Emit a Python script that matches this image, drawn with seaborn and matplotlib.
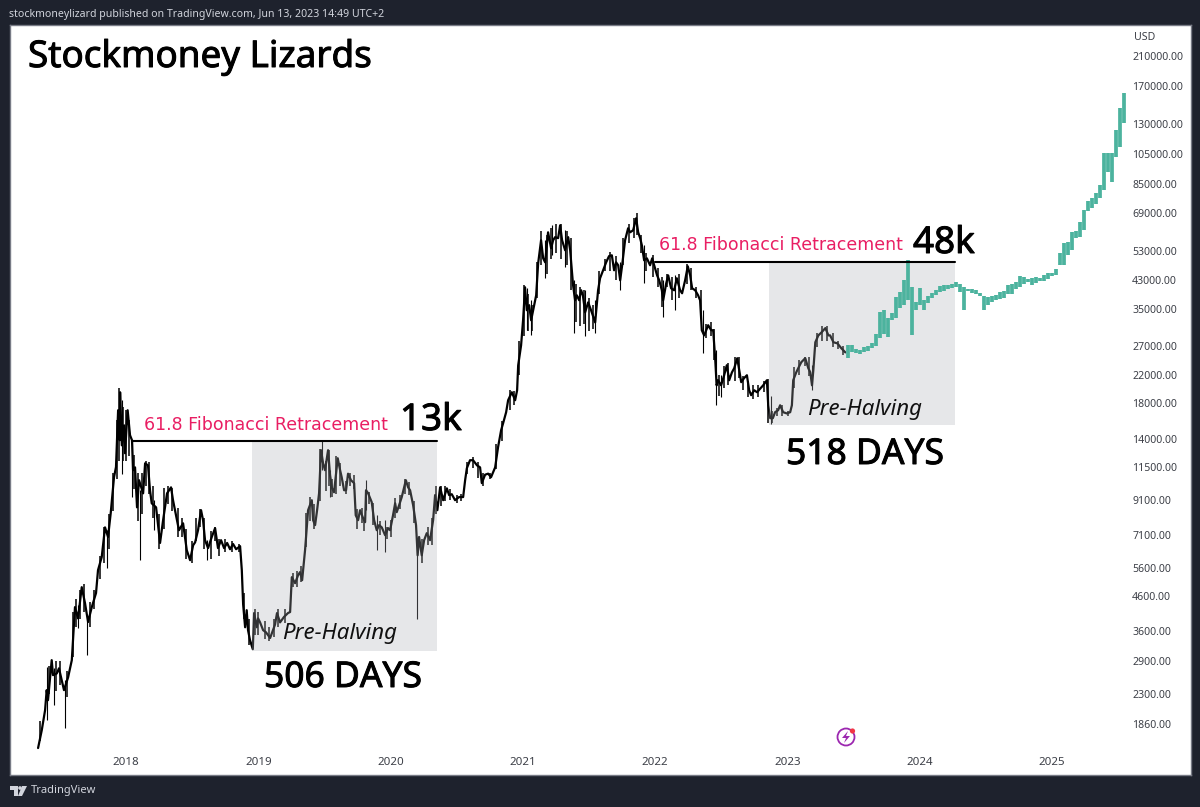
import numpy as np
import pandas as pd
import seaborn as sns
import matplotlib
matplotlib.use("Agg")
import matplotlib.pyplot as plt
from matplotlib import patches
from matplotlib import patheffects

# black part
years = [
    2017.335, 2017.363, 2017.388, 2017.400, 2017.410, 2017.438, 2017.448, 2017.476, 2017.493, 2017.514,
    2017.531, 2017.562, 2017.590, 2017.614, 2017.637, 2017.665, 2017.690, 2017.713, 2017.741, 2017.773,
    2017.788, 2017.816, 2017.841, 2017.864, 2017.884, 2017.909, 2017.924, 2017.940, 2017.952, 2017.955,
    2017.968, 2017.985, 2017.992, 2018.012, 2018.030, 2018.045, 2018.053, 2018.068, 2018.083, 2018.098,
    2018.129, 2018.144, 2018.166, 2018.181, 2018.194, 2018.227, 2018.242, 2018.257, 2018.280, 2018.310,
    2018.340, 2018.355, 2018.370, 2018.400, 2018.431, 2018.459, 2018.484, 2018.507, 2018.522, 2018.544,
    2018.567, 2018.582, 2018.597, 2018.620, 2018.648, 2018.673, 2018.695, 2018.718, 2018.741, 2018.764,
    2018.786, 2018.809, 2018.832, 2018.862, 2018.875, 2018.885, 2018.900, 2018.912, 2018.922, 2018.937,
    2018.958, 2018.968, 2018.988, 2018.998, 2019.013, 2019.036, 2019.058, 2019.089, 2019.111, 2019.126,
    2019.141, 2019.164, 2019.194, 2019.224, 2019.240, 2019.253, 2019.278, 2019.300, 2019.315, 2019.331,
    2019.353, 2019.376, 2019.404, 2019.414, 2019.429, 2019.444, 2019.459, 2019.474, 2019.489, 2019.504,
    2019.527, 2019.542, 2019.557, 2019.572, 2019.600, 2019.618, 2019.630, 2019.648, 2019.663, 2019.678,
    2019.700, 2019.724, 2019.736, 2019.754, 2019.769, 2019.792, 2019.807, 2019.814, 2019.830, 2019.857,
    2019.875, 2019.895, 2019.913, 2019.933, 2019.958, 2019.981, 2019.996, 2020.018, 2020.034, 2020.046,
    2020.064, 2020.084, 2020.102, 2020.115, 2020.132, 2020.147, 2020.170, 2020.192, 2020.204, 2020.215,
    2020.235, 2020.253, 2020.273, 2020.298, 2020.321, 2020.336, 2020.353, 2020.374, 2020.397, 2020.425,
    2020.442, 2020.462, 2020.487, 2020.517, 2020.548, 2020.563, 2020.576, 2020.600, 2020.623, 2020.653,
    2020.676, 2020.689, 2020.714, 2020.737, 2020.759, 2020.790, 2020.812, 2020.835, 2020.850, 2020.873,
    2020.888, 2020.916, 2020.941, 2020.956, 2020.964, 2020.986, 2021.001, 2021.016, 2021.029, 2021.047,
    2021.062, 2021.077, 2021.100, 2021.115, 2021.137, 2021.153, 2021.168, 2021.190, 2021.213, 2021.228,
    2021.243, 2021.266, 2021.281, 2021.296, 2021.319, 2021.342, 2021.357, 2021.379, 2021.394, 2021.407,
    2021.425, 2021.440, 2021.453, 2021.470, 2021.493, 2021.515, 2021.546, 2021.568, 2021.583, 2021.606,
    2021.629, 2021.651, 2021.672, 2021.689, 2021.704, 2021.720, 2021.735, 2021.750, 2021.772, 2021.795,
    2021.810, 2021.833, 2021.856, 2021.871, 2021.886, 2021.899, 2021.916, 2021.937, 2021.961, 2021.977,
    2021.999, 2022.014, 2022.030, 2022.050, 2022.060, 2022.083, 2022.098, 2022.120, 2022.143, 2022.163,
    2022.188, 2022.203, 2022.226, 2022.246, 2022.264, 2022.279, 2022.302, 2022.324, 2022.339, 2022.352,
    2022.370, 2022.400, 2022.423, 2022.438, 2022.453, 2022.464, 2022.476, 2022.498, 2022.521, 2022.541,
    2022.559, 2022.580, 2022.597, 2022.620, 2022.635, 2022.650, 2022.672, 2022.693, 2022.710, 2022.725,
    2022.748, 2022.770, 2022.793, 2022.816, 2022.844, 2022.854, 2022.869, 2022.889, 2022.906, 2022.929,
    2022.944, 2022.967, 2022.995, 2023.020, 2023.033, 2023.043, 2023.066, 2023.081, 2023.104, 2023.134,
    2023.157, 2023.172, 2023.185, 2023.195, 2023.210, 2023.233, 2023.256, 2023.286, 2023.309, 2023.322,
    2023.347, 2023.377, 2023.407, 2023.437,
]
prices = [
    1570, 1782, 2053, 2365, 2203, 2924, 2630, 2660, 2760, 2538,
    2365, 2590, 2924, 4255, 3930, 4900, 4370, 3830, 4255, 4700,
    5526, 6060, 7480, 6990, 8270, 10670, 11470, 17137, 13860, 19460,
    13370, 15400, 12640, 17137, 14360, 13860, 11210, 11440, 8620, 10445,
    9520, 11770, 11600, 9731, 8870, 8620, 7600, 6700, 7871, 9520,
    9930, 9067, 8448, 7333, 7700, 6366, 5931, 6590, 6730, 7333,
    8448, 7871, 6833, 6460, 6990, 7440, 6460, 6833, 6460, 6700,
    6410, 6650, 6410, 6550, 5526, 4340, 3690, 4164, 3615, 3368,
    3160, 4080, 3690, 3930, 3820, 3615, 3560, 3420, 3615, 3760,
    4080, 3820, 3970, 4080, 4110, 5260, 5040, 5330, 5450, 5149,
    6366, 8448, 9067, 7871, 7600, 8448, 9520, 12914, 11780, 11210,
    12914, 10820, 9860, 9590, 12200, 11210, 10670, 9731, 9731, 10940,
    10445, 10230, 8150, 7871, 8448, 7980, 7760, 9731, 9520, 8940,
    7871, 7333, 7600, 7480, 7080, 7440, 7333, 8150, 8870, 8330,
    8750, 9270, 9930, 10445, 9930, 9731, 8750, 7600, 6140, 6990,
    6140, 6833, 7180, 6833, 7871, 9400, 8448, 9930, 9067, 9860,
    9400, 9460, 9067, 9270, 9270, 10445, 11370, 12032, 12032, 11600,
    11440, 10230, 10860, 10940, 10670, 11440, 13200, 14876, 15620, 16900,
    18393, 19460, 18393, 19741, 23540, 27130, 32390, 40900, 34764, 36040,
    32390, 34764, 38650, 48450, 57038, 50200, 48800, 60340, 53900, 57038,
    58300, 57900, 63400, 57038, 53143, 58300, 53143, 41500, 37312, 38650,
    37312, 40047, 38650, 34260, 36760, 34764, 31900, 40047, 43600, 46133,
    48800, 51000, 51300, 46133, 48800, 47800, 42982, 47800, 57038, 62100,
    60340, 61219, 66650, 60340, 57900, 55050, 49514, 50200, 47800, 50200,
    46800, 44500, 42982, 40047, 37312, 42050, 44500, 40600, 40047, 43600,
    40047, 39200, 42982, 47450, 44500, 40600, 40047, 38650, 37312, 30178,
    29100, 31270, 30178, 30178, 24760, 20440, 21188, 20440, 21950, 23560,
    21188, 22410, 23070, 24760, 22741, 20900, 21520, 21950, 19741, 19060,
    19741, 19460, 19960, 20440, 21188, 17750, 16200, 16200, 16900, 17137,
    17750, 16900, 16750, 16900, 17750, 21188, 22410, 23070, 24070, 24760,
    23070, 22410, 20440, 22741, 27720, 29100, 29700, 30640, 29100, 29100,
    27720, 27500, 26560, 25800,
]

# long thin wicks sticking out of the black line
wick_years = [
    2017.400, 2017.456, 2017.539, 2017.635, 2017.705, 2017.856, 2017.968, 2018.045, 2018.104, 2018.212,
    2018.610, 2019.480, 2019.542, 2019.814, 2019.895, 2019.958, 2020.200, 2021.029, 2021.062, 2021.168,
    2021.218, 2021.319, 2021.385, 2021.470, 2021.546, 2021.735, 2021.916, 2022.060, 2022.151, 2022.360,
    2022.460, 2022.500, 2022.875, 2023.185,
]
wick_lows = [
    1913, 2130, 1815, 3660, 3030, 5600, 10940, 9270, 5931, 7333,
    5931, 11210, 9270, 8448, 6366, 6270, 3920, 30178, 29100, 43600,
    51300, 47100, 29700, 29000, 29500, 40047, 42050, 33200, 34764, 25600,
    17750, 18800, 15500, 19741,
]
wick_highs = [
    2790, 2760, 2538, 4330, 4000, 7333, 18393, 13860, 9731, 9067,
    6833, 13860, 11210, 10445, 8150, 7871, 6833, 40800, 37312, 57038,
    63400, 61219, 42982, 40047, 37312, 48800, 55050, 42982, 44500, 34764,
    26197, 21950, 19000, 23540,
]

# daily ranges that make the black line look rough
range_years = [
    2017.35, 2017.42, 2017.47, 2017.50, 2017.55, 2017.60, 2017.62, 2017.65, 2017.68, 2017.73,
    2017.76, 2017.80, 2017.83, 2017.87, 2017.90, 2017.93, 2017.945, 2017.975, 2018.00, 2018.02,
    2018.06, 2018.09, 2018.12, 2018.15, 2018.17, 2018.20, 2018.25, 2018.29, 2018.32, 2018.35,
    2018.39, 2018.42, 2018.45, 2018.50, 2018.53, 2018.56, 2018.59, 2018.64, 2018.67, 2018.70,
    2018.75, 2018.80, 2018.85, 2018.89, 2018.93, 2018.975, 2019.00, 2019.05, 2019.08, 2019.12,
    2019.15, 2019.20, 2019.26, 2019.29, 2019.32, 2019.36, 2019.39, 2019.42, 2019.465, 2019.51,
    2019.535, 2019.56, 2019.59, 2019.62, 2019.66, 2019.69, 2019.72, 2019.745, 2019.78, 2019.80,
    2019.84, 2019.87, 2019.92, 2019.97, 2020.00, 2020.03, 2020.07, 2020.11, 2020.14, 2020.18,
    2020.24, 2020.28, 2020.31, 2020.345, 2020.38, 2020.41, 2020.45, 2020.50, 2020.53, 2020.58,
    2020.62, 2020.66, 2020.70, 2020.75, 2020.80, 2020.84, 2020.90, 2020.93, 2020.97, 2021.01,
    2021.04, 2021.07, 2021.11, 2021.14, 2021.18, 2021.21, 2021.25, 2021.29, 2021.33, 2021.36,
    2021.40, 2021.43, 2021.46, 2021.50, 2021.53, 2021.575, 2021.62, 2021.66, 2021.70, 2021.76,
    2021.80, 2021.84, 2021.86, 2021.89, 2021.93, 2021.98, 2022.02, 2022.05, 2022.09, 2022.13,
    2022.18, 2022.24, 2022.27, 2022.31, 2022.345, 2022.38, 2022.42, 2022.445, 2022.48, 2022.52,
    2022.55, 2022.60, 2022.63, 2022.66, 2022.70, 2022.74, 2022.78, 2022.82, 2022.85, 2022.88,
    2022.92, 2022.96, 2023.00, 2023.05, 2023.09, 2023.13, 2023.16, 2023.22, 2023.26, 2023.30,
    2023.34, 2023.38, 2023.42,
]
range_lows = [
    1650, 2300, 2350, 2450, 2250, 3000, 3700, 3900, 4100, 3700,
    4200, 5200, 5800, 6400, 8400, 10500, 12000, 12000, 12000, 12400,
    9800, 7800, 8200, 10000, 9500, 8000, 6400, 7400, 8800, 8400,
    7000, 7000, 6000, 5800, 6800, 7500, 6400, 6000, 6800, 6100,
    6300, 6300, 6300, 3900, 3250, 3500, 3500, 3400, 3350, 3450,
    3700, 3800, 4900, 4900, 5100, 6500, 7800, 7400, 9000, 9700,
    10000, 9300, 9500, 10000, 9500, 10000, 9800, 7400, 7700, 7300,
    8800, 7600, 7100, 6900, 7000, 8000, 8500, 9500, 9400, 7700,
    5800, 6600, 6600, 8200, 8700, 9000, 9100, 8900, 9000, 10900,
    11400, 10600, 10000, 10500, 11300, 13800, 17200, 17800, 22000, 29000,
    30000, 30000, 38000, 48000, 45000, 50000, 52000, 50000, 48000, 40000,
    32000, 31000, 31500, 30000, 30500, 39000, 46000, 46000, 43000, 48000,
    56000, 58000, 59000, 52000, 46000, 44000, 41000, 35500, 41000, 37500,
    38000, 42000, 40000, 38000, 33000, 28500, 29000, 24500, 19000, 20000,
    20500, 21000, 21500, 19800, 18800, 18500, 18800, 19500, 15700, 15700,
    16400, 16500, 16400, 20000, 22000, 23500, 21800, 26800, 28000, 28000,
    26800, 26500, 25300,
]
range_highs = [
    1900, 2800, 2900, 2900, 2700, 4100, 4500, 4800, 5000, 4400,
    4800, 6100, 7500, 8200, 11000, 16000, 20000, 17500, 17200, 16000,
    12500, 11000, 11000, 12000, 11900, 10000, 8200, 9900, 10000, 9900,
    8600, 8000, 7400, 6800, 8000, 8500, 8000, 7300, 7500, 6900,
    6900, 6800, 6650, 4700, 3900, 4200, 4100, 3850, 3700, 3900,
    4200, 4200, 5400, 5500, 5700, 8300, 9300, 8800, 13000, 12000,
    12900, 10500, 12400, 11800, 10400, 11000, 10800, 8500, 8600, 8000,
    9600, 8900, 7800, 7500, 7900, 9200, 9400, 10500, 10300, 9000,
    6900, 7500, 8000, 10000, 10000, 10000, 9800, 9400, 9500, 11900,
    12300, 11900, 11000, 11000, 13500, 15900, 19800, 19600, 28000, 41500,
    39000, 36000, 49000, 61000, 59000, 62000, 64000, 64000, 61000, 58000,
    42000, 41000, 40000, 38000, 36000, 46000, 50000, 52500, 51000, 58000,
    64000, 67000, 69000, 59000, 52000, 51500, 47000, 44000, 45000, 44000,
    44800, 48200, 47000, 41000, 40000, 31500, 32000, 30500, 22000, 23500,
    24000, 25000, 25000, 21800, 21000, 20500, 20500, 21000, 21300, 17000,
    17400, 17800, 17000, 23300, 24500, 25000, 25000, 29500, 31000, 31000,
    29500, 28000, 27000,
]

# teal projection bars
proj_years = [
    2023.458, 2023.488, 2023.519, 2023.549, 2023.579, 2023.609, 2023.640, 2023.670, 2023.700, 2023.730,
    2023.760, 2023.791, 2023.821, 2023.851, 2023.881, 2023.912, 2023.942, 2023.972, 2024.002, 2024.033,
    2024.063, 2024.093, 2024.123, 2024.153, 2024.184, 2024.214, 2024.244, 2024.274, 2024.305, 2024.335,
    2024.365, 2024.395, 2024.426, 2024.456, 2024.486, 2024.516, 2024.546, 2024.577, 2024.607, 2024.637,
    2024.667, 2024.698, 2024.728, 2024.758, 2024.788, 2024.819, 2024.849, 2024.879, 2024.909, 2024.939,
    2024.970, 2025.000, 2025.030, 2025.060, 2025.091, 2025.121, 2025.151, 2025.181, 2025.212, 2025.242,
    2025.272, 2025.302, 2025.332, 2025.363, 2025.393, 2025.423, 2025.453, 2025.484, 2025.514, 2025.544,
]
proj_highs = [
    27130, 27130, 26370, 26197, 26750, 26940, 27500, 29490, 34270, 34764,
    32850, 34030, 38100, 39480, 42980, 49514, 40910, 36790, 40620, 37312,
    38380, 39200, 40047, 41200, 41490, 41490, 41790, 42380, 41790, 40910,
    40330, 40330, 40047, 39200, 38380, 38100, 38380, 38650, 39480, 39760,
    41490, 41790, 42380, 44240, 43930, 43310, 43620, 43930, 43620, 44550,
    45180, 45180, 46460, 51990, 55840, 56240, 60360, 60790, 64780, 70522,
    75160, 76770, 79540, 84150, 105560, 105560, 105560, 124186, 145100, 161300,
]
proj_lows = [
    24760, 25820, 25640, 25460, 25820, 26010, 26560, 26940, 28660, 29490,
    28870, 32390, 32850, 35400, 36010, 37312, 29280, 34764, 36010, 34764,
    36530, 37840, 38650, 39480, 39760, 40330, 40620, 40910, 39480, 34764,
    39760, 39200, 38920, 38380, 34764, 36010, 36790, 37310, 37570, 37840,
    38920, 38920, 40330, 40910, 41790, 42380, 41490, 42080, 42680, 42680,
    43310, 44240, 44550, 47800, 47800, 51300, 53143, 57900, 58200, 61219,
    70030, 71530, 73580, 76770, 81238, 92270, 85950, 102570, 110100, 130470,
]

x_ticks = [2018, 2019, 2020, 2021, 2022, 2023, 2024, 2025]
y_ticks = [1860, 2300, 2900, 3600, 4600, 5600, 7100, 9100, 11500, 14000, 18000, 22000,
           27000, 35000, 43000, 53000, 69000, 85000, 105000, 130000, 170000, 210000]

fib_low = 13760
fib_high = 48800
box1 = [2018.953, 2020.351, 3115, fib_low]
box2 = [2022.861, 2024.267, 15400, 48450]

BG = "#1e222d"
GREY = "#787b86"
TEAL = "#4cb39e"
PINK = "#e91e63"
TEXT = "#3c3f47"

sns.set_theme(style="white")
plt.rcParams["font.family"] = ["Noto Sans", "DejaVu Sans"]

fig = plt.figure(figsize=(12, 8.07), dpi=100, facecolor=BG)
ax = fig.add_axes([9.5 / 1200, (807 - 774.5) / 807, 1181 / 1200, 749.5 / 807])
ax.set_facecolor("white")

sns.lineplot(x=years, y=prices, color="black", linewidth=1.6, estimator=None, sort=False,
             errorbar=None, ax=ax, zorder=2)
ax.vlines(wick_years, wick_lows, wick_highs, color="black", linewidth=0.8, zorder=2)
ax.vlines(range_years, range_lows, range_highs, color="black", linewidth=1.1, zorder=2)

# grey boxes sit over the black line, so it turns dark grey inside them
for b in [box1, box2]:
    ax.add_patch(patches.Rectangle((b[0], b[2]), b[1] - b[0], b[3] - b[2],
                                   facecolor="#adb0b5", alpha=0.293, edgecolor="none", zorder=3))

bars = pd.DataFrame({"year": proj_years * 2, "price": proj_lows + proj_highs})
sns.lineplot(data=bars, x="year", y="price", units="year", estimator=None, color=TEAL,
             linewidth=2.7, solid_capstyle="butt", ax=ax, zorder=4)

ax.plot([2018.053, 2020.351], [fib_low, fib_low], color="black", linewidth=1.5, zorder=5)
ax.plot([2021.999, 2024.267], [fib_high, fib_high], color="black", linewidth=1.5, zorder=5)

ax.set_yscale("log")
ax.set_xlim(2017.119, 2026.046)
ax.set_ylim(1302, 261600)
ax.set_xlabel("")
ax.set_ylabel("")
ax.yaxis.tick_right()
ax.set_xticks(x_ticks)
ax.set_xticklabels([str(v) for v in x_ticks])
ax.set_yticks(y_ticks)
ax.set_yticklabels(["%.2f" % v for v in y_ticks])
ax.minorticks_off()
ax.tick_params(axis="x", length=0, pad=-12.5, labelsize=8.3, labelcolor=TEXT)
ax.tick_params(axis="y", length=0, pad=-42, labelsize=7.6, labelcolor=TEXT)
for label in ax.get_yticklabels():
    label.set_horizontalalignment("left")
for s in ax.spines.values():
    s.set_color(GREY)
    s.set_linewidth(1)
    s.set_visible(True)

# overlay in pixel coordinates for the texts and screen furniture
over = fig.add_axes([0, 0, 1, 1], facecolor="none")
over.set_xlim(0, 1200)
over.set_ylim(807, 0)
over.axis("off")

heavy = [patheffects.withStroke(linewidth=0.7, foreground="black")]

over.text(9, 14, "stockmoneylizard published on TradingView.com, Jun 13, 2023 14:49 UTC+2",
          color="#d1d4dc", fontsize=7.6, va="center", ha="left")
over.text(28, 58, "Stockmoney Lizards", color="black", fontsize=26.5,
          va="center", ha="left", path_effects=heavy)
over.text(1134, 37, "USD", color=TEXT, fontsize=7.6, va="center", ha="left")

for x, y, s in [(144, 425, "61.8 Fibonacci Retracement"), (659, 245, "61.8 Fibonacci Retracement")]:
    over.text(x, y, s, color=PINK, fontsize=12.5, fontfamily="DejaVu Sans", va="center", ha="left")
for x, y, s in [(400, 421, "13k"), (913, 244, "48k")]:
    over.text(x, y, s, color="black", fontsize=26.5, va="center", ha="left", path_effects=heavy)
for x, y, s in [(264, 678, "506 DAYS"), (786, 455, "518 DAYS")]:
    over.text(x, y, s, color="black", fontsize=25.5, va="center", ha="left", path_effects=heavy)
for x, y, s in [(282, 634, "Pre-Halving"), (807, 409, "Pre-Halving")]:
    over.text(x, y, s, color="#111111", fontsize=16, style="italic", va="center", ha="left")

# TradingView logo
logo = "#d1d4dc"
over.add_patch(patches.Polygon([(10, 786), (18, 786), (18, 796), (14, 796), (14, 790), (10, 790)],
                               facecolor=logo, edgecolor="none"))
over.add_patch(patches.Circle((20, 788), 1.8, facecolor=logo, edgecolor="none"))
over.add_patch(patches.Polygon([(22, 786), (27, 786), (22, 796), (18, 796)], facecolor=logo, edgecolor="none"))
over.text(31, 791, "TradingView", color=logo, fontsize=8, va="center", ha="left")

# lightning icon
over.add_patch(patches.Circle((846, 737), 8.5, facecolor="none", edgecolor="#9c27b0", linewidth=1.3))
over.add_patch(patches.Polygon([(848, 731), (842, 738), (846, 738), (844, 743), (850, 736), (846, 736)],
                               facecolor="#9c27b0", edgecolor="none"))
over.add_patch(patches.Circle((852.5, 731), 2.6, facecolor="#f23645", edgecolor="none"))

fig.savefig("out.png", dpi=100, facecolor=BG)
